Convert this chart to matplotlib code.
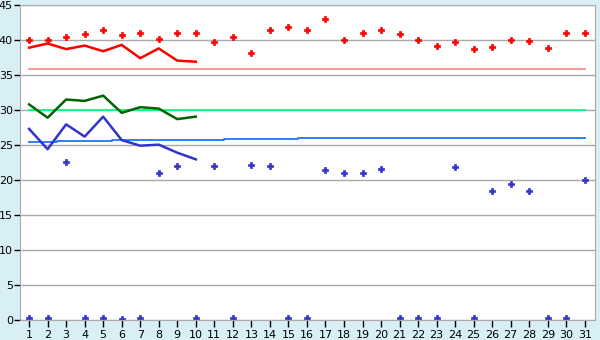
import numpy as np
import matplotlib
matplotlib.use("Agg")
import matplotlib.pyplot as plt

days = np.arange(1, 32)

# red points (per day)
red_pts = [40.0, 40.0, 40.4, 40.8, 41.4, 40.7, 41.0, 40.2, 41.0, 41.0,
           39.7, 40.4, 38.2, 41.4, 41.8, 41.4, 43.0, 40.0, 41.0, 41.4,
           40.8, 40.0, 39.2, 39.7, 38.7, 39.0, 40.0, 39.8, 38.8, 41.0, 41.0]
# blue points (per day)
blue_pts = [0.3, 0.3, 22.6, 0.3, 0.3, 0.15, 0.3, 21.0, 22.0, 0.3,
            22.0, 0.3, 22.1, 22.0, 0.3, 0.3, 21.4, 21.0, 21.0, 21.6,
            0.3, 0.3, 0.3, 21.8, 0.3, 18.4, 19.5, 18.5, 0.3, 0.3, 20.0]

# lines over first 10 days
line_days = np.arange(1, 11)
red_line = [38.9, 39.5, 38.7, 39.2, 38.4, 39.3, 37.4, 38.8, 37.05, 36.9]
green_line = [30.8, 28.9, 31.5, 31.3, 32.05, 29.6, 30.4, 30.2, 28.7, 29.05]
blue_line = [27.3, 24.4, 27.95, 26.2, 29.05, 25.7, 24.9, 25.05, 23.9, 22.95]

# reference levels
red_ref = [35.8] * 31
green_ref = [30.0] * 31
blue_ref = [25.38] * 2 + [25.52] * 3 + [25.67] * 6 + [25.81] * 4 + [25.95] * 16

fig = plt.figure(figsize=(6, 3.4), dpi=100)
fig.patch.set_facecolor("#d9eff6")
ax = fig.add_axes([20 / 600, 20 / 340, 575 / 600, 315 / 340])
ax.set_facecolor("white")

ax.plot(days, red_ref, color="#ee8080", lw=1.1)
ax.plot(days, green_ref, color="#00ff80", lw=1.3)
ax.plot(days, blue_ref, color="#1a75ff", lw=1.3, drawstyle="steps-mid")

ax.plot(line_days, red_line, color="#ff0000", lw=1.8)
ax.plot(line_days, green_line, color="#006400", lw=1.8)
ax.plot(line_days, blue_line, color="#3333cc", lw=1.8)

ax.plot(days, red_pts, ls="none", marker="P", ms=4.5, color="#ff0000", mec="#ff0000", mew=0.5)
ax.plot(days, blue_pts, ls="none", marker="P", ms=3.8, color="#3333cc", mec="#3333cc", mew=0.5)

ax.set_xlim(0.51, 31.55)
ax.set_ylim(0, 45)
ax.set_xticks(days)
ax.set_yticks(np.arange(0, 46, 5))
ax.yaxis.grid(True, color="#aaaaaa", lw=1)
ax.set_axisbelow(True)
for s in ax.spines.values():
    s.set_color("#aaaaaa")
ax.tick_params(axis="x", length=5, width=1, color="black", labelsize=8, pad=2)
ax.tick_params(axis="y", length=4, width=1, color="black", labelsize=8, pad=1)

fig.savefig("out.png", dpi=100, facecolor=fig.get_facecolor())
